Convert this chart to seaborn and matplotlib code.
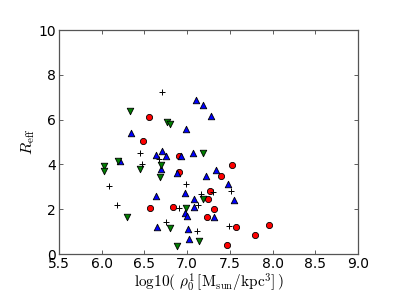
import matplotlib
matplotlib.use("Agg")
import matplotlib.pyplot as plt
import seaborn as sns
import pandas as pd

# ---- data ----
red_x = [6.55, 6.48, 6.90, 6.91, 6.57, 6.84, 7.52, 7.40, 7.27, 7.24, 7.32, 7.23, 7.57, 7.80, 7.96, 7.47]
red_y = [6.12, 5.03, 4.39, 3.67, 2.04, 2.12, 3.97, 3.46, 2.82, 2.47, 2.02, 1.64, 1.21, 0.85, 1.31, 0.42]

blue_x = [7.10, 7.18, 7.28, 6.99, 6.34, 6.63, 6.70, 6.75, 6.93, 7.07, 6.69, 6.88, 6.21, 7.22,
          7.34, 7.48, 7.55, 7.31, 6.98, 7.08, 7.08, 6.97, 7.00, 7.01, 7.02, 6.63, 6.65]
blue_y = [6.87, 6.64, 6.17, 5.57, 5.39, 4.43, 4.60, 4.38, 4.39, 4.53, 3.80, 3.62, 4.14, 3.50,
          3.73, 3.13, 2.39, 1.65, 2.71, 2.44, 2.08, 1.82, 1.71, 1.12, 0.67, 2.57, 1.22]

green_x = [6.33, 6.76, 6.80, 6.03, 6.03, 6.19, 6.45, 6.69, 6.68, 7.18, 7.19, 6.99, 6.30, 6.80, 6.88, 7.14]
green_y = [6.39, 5.91, 5.80, 3.95, 3.71, 4.17, 3.81, 3.97, 3.45, 4.51, 2.47, 2.06, 1.64, 1.15, 0.35, 0.60]

plus_x = [6.70, 6.45, 6.47, 6.67, 6.08, 6.18, 6.75, 6.91, 6.99, 7.13, 7.16, 7.30, 7.51, 7.49, 7.11]
plus_y = [7.24, 4.49, 4.00, 4.22, 3.02, 2.18, 1.41, 2.05, 3.13, 2.20, 2.67, 2.78, 2.80, 1.27, 1.03]

x_ticks = [5.5, 6.0, 6.5, 7.0, 7.5, 8.0, 8.5, 9.0]
y_ticks = [0, 2, 4, 6, 8, 10]

plt.rcParams['mathtext.fontset'] = 'cm'
plt.rcParams['font.family'] = ['DejaVu Sans']

fig = plt.figure(figsize=(3.99, 2.99), dpi=100)
ax = fig.add_axes([59/399, 1-254/299, 299/399, 224/299])

groups = [
    (red_x, red_y, 'o', 'red', 20),
    (blue_x, blue_y, '^', 'blue', 22),
    (green_x, green_y, 'v', 'green', 22),
]
for gx, gy, m, c, s in groups:
    df = pd.DataFrame({'x': gx, 'y': gy})
    sns.scatterplot(data=df, x='x', y='y', marker=m, color=c, s=s,
                    edgecolor='black', linewidth=0.6, ax=ax, legend=False, zorder=3)

dfp = pd.DataFrame({'x': plus_x, 'y': plus_y})
sns.scatterplot(data=dfp, x='x', y='y', marker='+', color='black', s=20,
                linewidth=0.7, ax=ax, legend=False, zorder=4)

ax.set_xlim(5.5, 9.0)
ax.set_ylim(0, 10)
ax.set_xticks(x_ticks)
ax.set_yticks(y_ticks)
ax.set_xticklabels([f"{t:.1f}" for t in x_ticks])
ax.set_yticklabels([str(t) for t in y_ticks])
ax.tick_params(direction='in', top=True, right=True, length=3, width=0.6,
               labelsize=10, pad=2, color='#444444')
for sp in ax.spines.values():
    sp.set_color('#555555')
    sp.set_linewidth(0.9)

ax.set_xlabel(r'$\mathrm{log10(}\ \rho_0^1\,[\mathrm{M_{sun}/kpc^3}]\,)$', fontsize=11, labelpad=1)
ax.set_ylabel(r'$R_{\rm eff}$', fontsize=11.5, labelpad=1)

fig.savefig('out.png', dpi=100)
